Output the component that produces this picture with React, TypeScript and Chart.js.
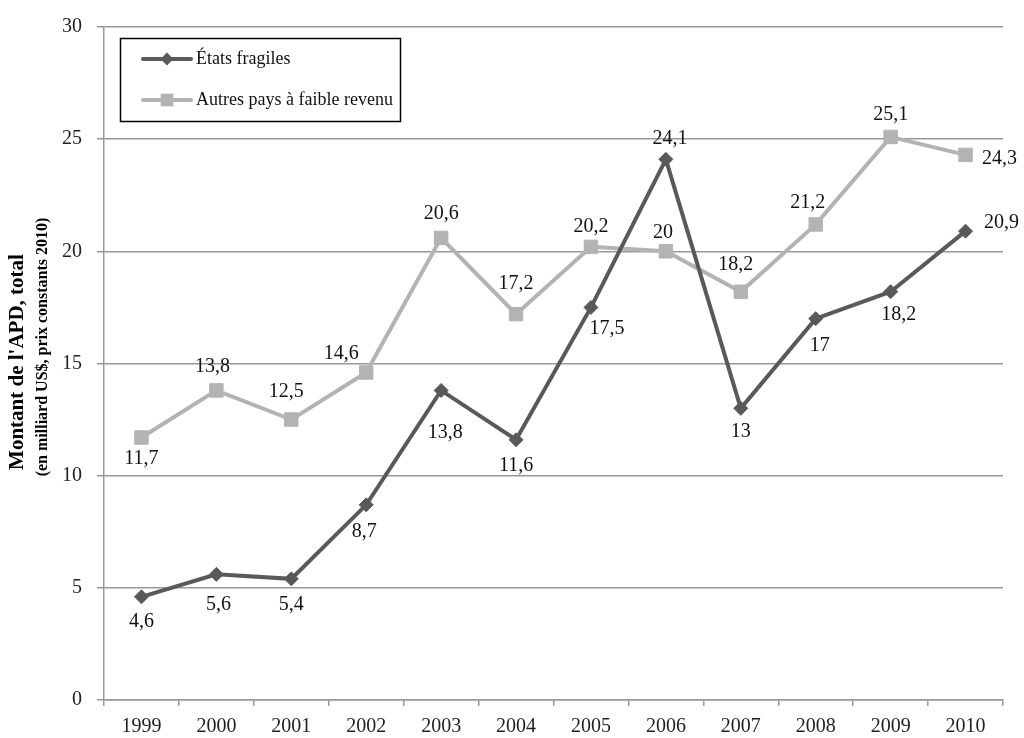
import React, { useEffect, useRef } from "react";
import { Chart, registerables } from "chart.js";

Chart.register(...registerables);

const years = ["1999", "2000", "2001", "2002", "2003", "2004", "2005", "2006", "2007", "2008", "2009", "2010"];
const fragiles = [4.6, 5.6, 5.4, 8.7, 13.8, 11.6, 17.5, 24.1, 13, 17, 18.2, 20.9];
const autres = [11.7, 13.8, 12.5, 14.6, 20.6, 17.2, 20.2, 20, 18.2, 21.2, 25.1, 24.3];
const seriesNames = ["États fragiles", "Autres pays à faible revenu"];
const yTitle = "Montant de l'APD, total";
const ySubTitle = "(en milliard US$, prix constants 2010)";

// label offsets (style only): [dx, dy] relative to the point
const fragilesLabelOffsets: [number, number][] = [
  [0, 25], [2, 30], [0, 26], [-2, 27], [4, 42], [0, 26], [16, 21], [4, -21], [0, 23], [4, 27], [8, 23], [36, -8],
];
const autresLabelOffsets: [number, number][] = [
  [0, 21], [-4, -24], [-5, -28], [-25, -19], [0, -24], [0, -30], [0, -20], [-3, -19], [-5, -27], [-8, -22], [0, -22], [34, 4],
];

const DARK = "#595959";
const LIGHT = "#b3b3b3";
const GRID = "#989898";
const FONT = "'Liberation Serif', 'DejaVu Serif', serif";

const fmt = (v: number) => String(v).replace(".", ",");

const overlayPlugin = {
  id: "overlay",
  afterDatasetsDraw(chart: any) {
    const ctx = chart.ctx;
    ctx.save();
    ctx.font = `20px ${FONT}`;
    ctx.fillStyle = "#111";
    ctx.textAlign = "center";
    ctx.textBaseline = "middle";
    const offs = [fragilesLabelOffsets, autresLabelOffsets];
    chart.data.datasets.forEach((ds: any, di: number) => {
      const meta = chart.getDatasetMeta(di);
      meta.data.forEach((pt: any, i: number) => {
        const [dx, dy] = offs[di][i];
        ctx.fillText(fmt(ds.data[i]), pt.x + dx, pt.y + dy);
      });
    });
    ctx.restore();
  },
  afterDraw(chart: any) {
    const ctx = chart.ctx;
    ctx.save();
    // legend box
    ctx.strokeStyle = "#000";
    ctx.lineWidth = 1.5;
    ctx.strokeRect(120.5, 38.5, 280, 83);
    const rows = [
      { y: 59, color: DARK, style: "rectRot", r: 6.5, name: seriesNames[0] },
      { y: 100, color: LIGHT, style: "rect", r: 9, name: seriesNames[1] },
    ];
    rows.forEach((row) => {
      ctx.strokeStyle = row.color;
      ctx.lineWidth = 4;
      ctx.lineCap = "round";
      ctx.beginPath();
      ctx.moveTo(143, row.y);
      ctx.lineTo(191, row.y);
      ctx.stroke();
      ctx.fillStyle = row.color;
      ctx.beginPath();
      if (row.style === "rectRot") {
        ctx.moveTo(167, row.y - row.r);
        ctx.lineTo(167 + row.r, row.y);
        ctx.lineTo(167, row.y + row.r);
        ctx.lineTo(167 - row.r, row.y);
        ctx.closePath();
      } else {
        const s = row.r * Math.SQRT1_2;
        ctx.rect(167 - s, row.y - s, 2 * s, 2 * s);
      }
      ctx.fill();
      ctx.fillStyle = "#111";
      ctx.font = `18px ${FONT}`;
      ctx.textAlign = "left";
      ctx.textBaseline = "middle";
      ctx.fillText(row.name, 196, row.y);
    });
    // y-axis title
    ctx.fillStyle = "#000";
    ctx.textAlign = "center";
    ctx.textBaseline = "middle";
    ctx.translate(18, 362);
    ctx.rotate(-Math.PI / 2);
    ctx.font = `bold 21px ${FONT}`;
    ctx.fillText(yTitle, 0, 0);
    ctx.font = `bold 16px ${FONT}`;
    ctx.fillText(ySubTitle, 15, 25);
    ctx.restore();
  },
};

export default function App() {
  const ref = useRef<HTMLCanvasElement | null>(null);
  useEffect(() => {
    document.body.style.margin = "0";
    const canvas = ref.current;
    if (!canvas) return;
    const chart = new Chart(canvas, {
      type: "line",
      data: {
        labels: years,
        datasets: [
          {
            label: seriesNames[0],
            data: fragiles,
            borderColor: DARK,
            backgroundColor: DARK,
            borderWidth: 4,
            pointStyle: "rectRot",
            pointRadius: 7,
            pointBorderWidth: 1,
            pointBorderColor: DARK,
            pointBackgroundColor: DARK,
            tension: 0,
          },
          {
            label: seriesNames[1],
            data: autres,
            borderColor: LIGHT,
            backgroundColor: LIGHT,
            borderWidth: 4,
            pointStyle: "rect",
            pointRadius: 9.5,
            pointBorderWidth: 1,
            pointBorderColor: LIGHT,
            pointBackgroundColor: LIGHT,
            tension: 0,
          },
        ],
      },
      options: {
        animation: false,
        responsive: false,
        devicePixelRatio: 1,
        layout: { padding: { top: 27, right: 21, left: 0, bottom: 0 } },
        plugins: {
          legend: { display: false },
          tooltip: { enabled: false },
        },
        scales: {
          x: {
            offset: true,
            grid: {
              offset: true,
              drawOnChartArea: false,
              drawTicks: true,
              tickLength: 6,
              color: GRID,
              lineWidth: 1.5,
            },
            border: { display: true, color: GRID, width: 1.5 },
            ticks: {
              color: "#1f1f1f",
              font: { family: FONT, size: 20 },
              padding: 9,
              maxRotation: 0,
              autoSkip: false,
            },
            afterFit(scale: any) {
              scale.height = 38;
            },
          },
          y: {
            min: 0,
            max: 30,
            ticks: {
              stepSize: 5,
              color: "#1f1f1f",
              font: { family: FONT, size: 20 },
              padding: 15,
            },
            grid: {
              color: GRID,
              lineWidth: 1.5,
              tickLength: 7,
              drawTicks: true,
            },
            border: { display: true, color: GRID, width: 1.5 },
            afterFit(scale: any) {
              scale.width = 104;
            },
          },
        },
      },
      plugins: [overlayPlugin],
    } as any);
    return () => chart.destroy();
  }, []);
  return (
    <div style={{ width: 1024, height: 738 }}>
      <canvas ref={ref} width={1024} height={738} style={{ display: "block" }} />
    </div>
  );
}
